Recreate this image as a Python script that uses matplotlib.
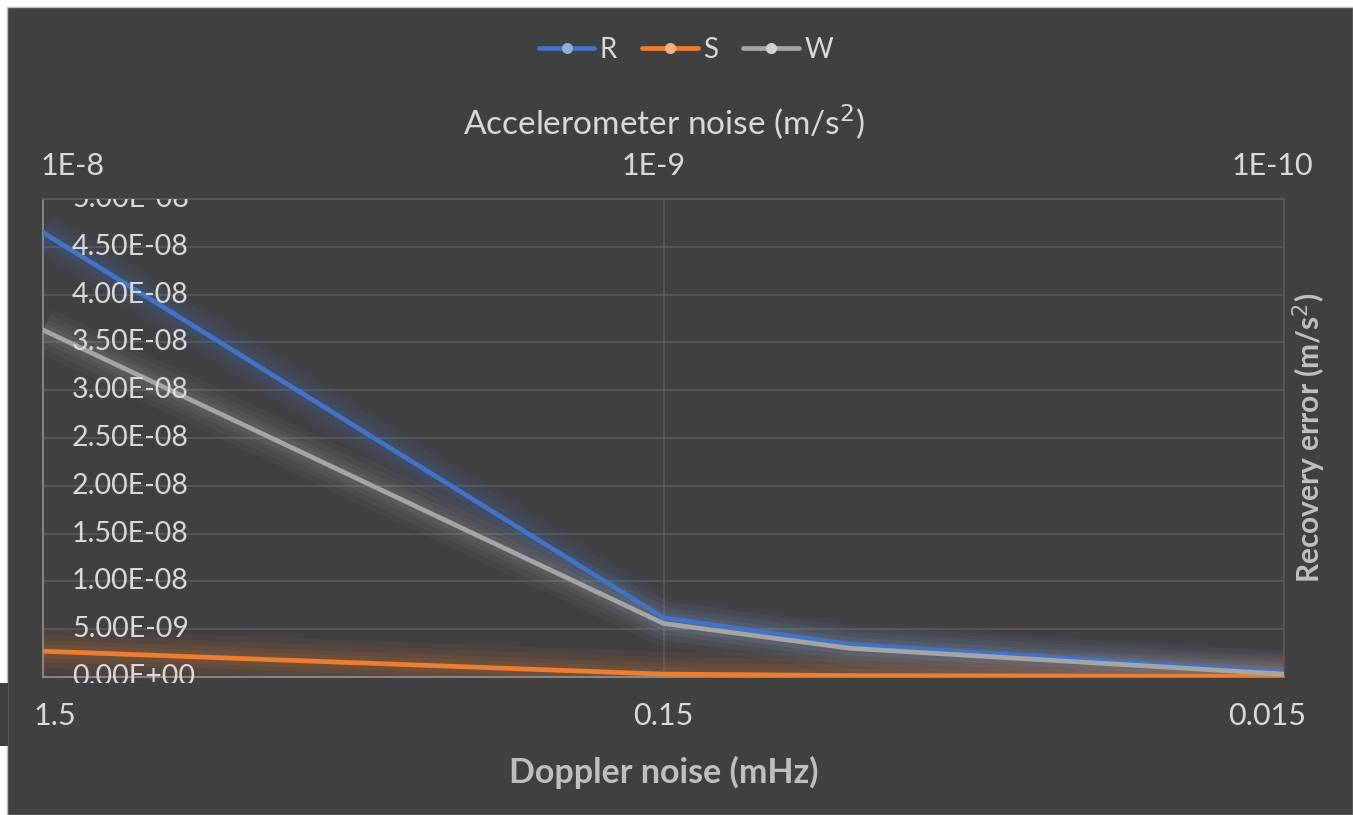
import matplotlib.pyplot as plt
import matplotlib.transforms as mtransforms
from matplotlib.lines import Line2D
from matplotlib.patches import Rectangle

plt.rcParams['font.family'] = ['Lato', 'DejaVu Sans']

# data
doppler = [1.5, 0.15, 0.075, 0.015]          # mHz (bottom axis)
accel_ticks = [1e-8, 1e-9, 1e-10]            # m/s^2 (top axis)
accel_labels = ["1E-8", "1E-9", "1E-10"]
doppler_ticks = [1.5, 0.15, 0.015]
doppler_labels = ["1.5", "0.15", "0.015"]
R = [4.65e-8, 6.2e-9, 3.4e-9, 5.0e-10]
S = [2.7e-9, 3.0e-10, 1.5e-10, 5.0e-11]
W = [3.63e-8, 5.6e-9, 3.0e-9, 3.0e-10]
yticks = [i * 5e-9 for i in range(11)]
ylabels = ["0.00E+00", "5.00E-09", "1.00E-08", "1.50E-08", "2.00E-08", "2.50E-08",
           "3.00E-08", "3.50E-08", "4.00E-08", "4.50E-08", "5.00E-08"]

series = [("R", R, "#4472C4", "#8FAADC"),
          ("S", S, "#ED7D31", "#F4B183"),
          ("W", W, "#A5A5A5", "#D0D0D0")]

bg = "#404040"
txt = "#D9D9D9"
grid = "#595959"

fig = plt.figure(figsize=(13.53, 8.15), dpi=100, facecolor="white")
# dark chart panel
fig.patches.append(Rectangle((7 / 1353, 0), 1 - 7 / 1353, 1 - 7 / 815, transform=fig.transFigure,
                             facecolor=bg, edgecolor="#BFBFBF", linewidth=1, zorder=-10))
fig.patches.append(Rectangle((0, 1 - 746 / 815), 8 / 1353, 63 / 815, transform=fig.transFigure,
                             facecolor=bg, edgecolor="none", zorder=-10))

ax = fig.add_axes([43 / 1353, 1 - 677 / 815, 1241 / 1353, 478 / 815])
ax.set_facecolor(bg)
ax.set_xscale("log")
ax.set_xlim(1.5, 0.015)
ax.set_ylim(0, 5e-8)

# lines with a soft glow
for name, vals, col, mk in series:
    for lw, a in [(32, 0.06), (24, 0.07), (16, 0.08), (10, 0.1)]:
        ax.plot(doppler, vals, color=col, lw=lw, alpha=a, solid_capstyle="butt", zorder=2)
    ax.plot(doppler, vals, color=col, lw=3.4, solid_joinstyle="round", zorder=3)

ax.set_xticks(doppler_ticks)
ax.set_xticklabels(doppler_labels)
ax.xaxis.set_minor_locator(plt.NullLocator())
ax.tick_params(axis="x", length=0, pad=18, labelsize=22, colors=txt)
ax.set_yticks(yticks)
ax.set_yticklabels([])
ax.tick_params(axis="y", length=0)
ax.grid(True, color=grid, linewidth=1.2)
ax.set_axisbelow(True)

# bottom label offsets like the original
offs = [12, 0, -17]
for lbl, dx in zip(ax.get_xticklabels(), offs):
    lbl.set_transform(lbl.get_transform() + mtransforms.ScaledTranslation(dx / 100, 0, fig.dpi_scale_trans))

# y tick labels drawn inside the plot, cut off at the plot edges like the original
clip = Rectangle((43 / 1353, 1 - 683 / 815), 1241 / 1353, 484 / 815, transform=fig.transFigure)
ytrans = mtransforms.blended_transform_factory(ax.transAxes, ax.transData)
for v, s in zip(yticks, ylabels):
    t = ax.text(29 / 1241, v, s, transform=ytrans, ha="left", va="center",
                fontsize=20.5, color=txt, zorder=5)
    t.set_clip_path(clip)
    t.set_clip_on(True)

for side in ["left", "bottom"]:
    ax.spines[side].set_color("#8C8C8C")
    ax.spines[side].set_linewidth(1.3)
for side in ["top", "right"]:
    ax.spines[side].set_color(grid)
    ax.spines[side].set_linewidth(1.2)

ax.set_xlabel("Doppler noise (mHz)", fontsize=24.5, fontweight="bold", color="#BFBFBF", labelpad=19)
ax.yaxis.set_label_position("right")
ax.set_ylabel("Recovery error (m/s$^2$)", fontsize=21.5, fontweight="bold", color="#BFBFBF", labelpad=5)

# top axis
ax2 = ax.twiny()
ax2.set_xscale("log")
ax2.set_xlim(1e-8, 1e-10)
ax2.set_xticks(accel_ticks)
ax2.set_xticklabels(accel_labels)
ax2.xaxis.set_minor_locator(plt.NullLocator())
ax2.tick_params(axis="x", length=0, pad=14, labelsize=22, colors=txt)
for sp in ax2.spines.values():
    sp.set_visible(False)
for lbl, dx in zip(ax2.get_xticklabels(), [30, -10, -12]):
    lbl.set_transform(lbl.get_transform() + mtransforms.ScaledTranslation(dx / 100, 0, fig.dpi_scale_trans))
ax2.set_xlabel("Accelerometer noise (m/s$^2$)", fontsize=24, color=txt, labelpad=12)

handles = [Line2D([0], [0], color=c, lw=3.4, marker="o", markersize=7, markerfacecolor=m,
                  markeredgecolor=m, solid_capstyle="round") for _, _, c, m in series]
fig.legend(handles, [s[0] for s in series], loc="center", bbox_to_anchor=(686 / 1353, 1 - 50 / 815),
           ncol=3, frameon=False, fontsize=20, labelcolor=txt, handlelength=2.0,
           handletextpad=0.2, columnspacing=0.9)

plt.savefig("out.png", dpi=100, facecolor=fig.get_facecolor())
